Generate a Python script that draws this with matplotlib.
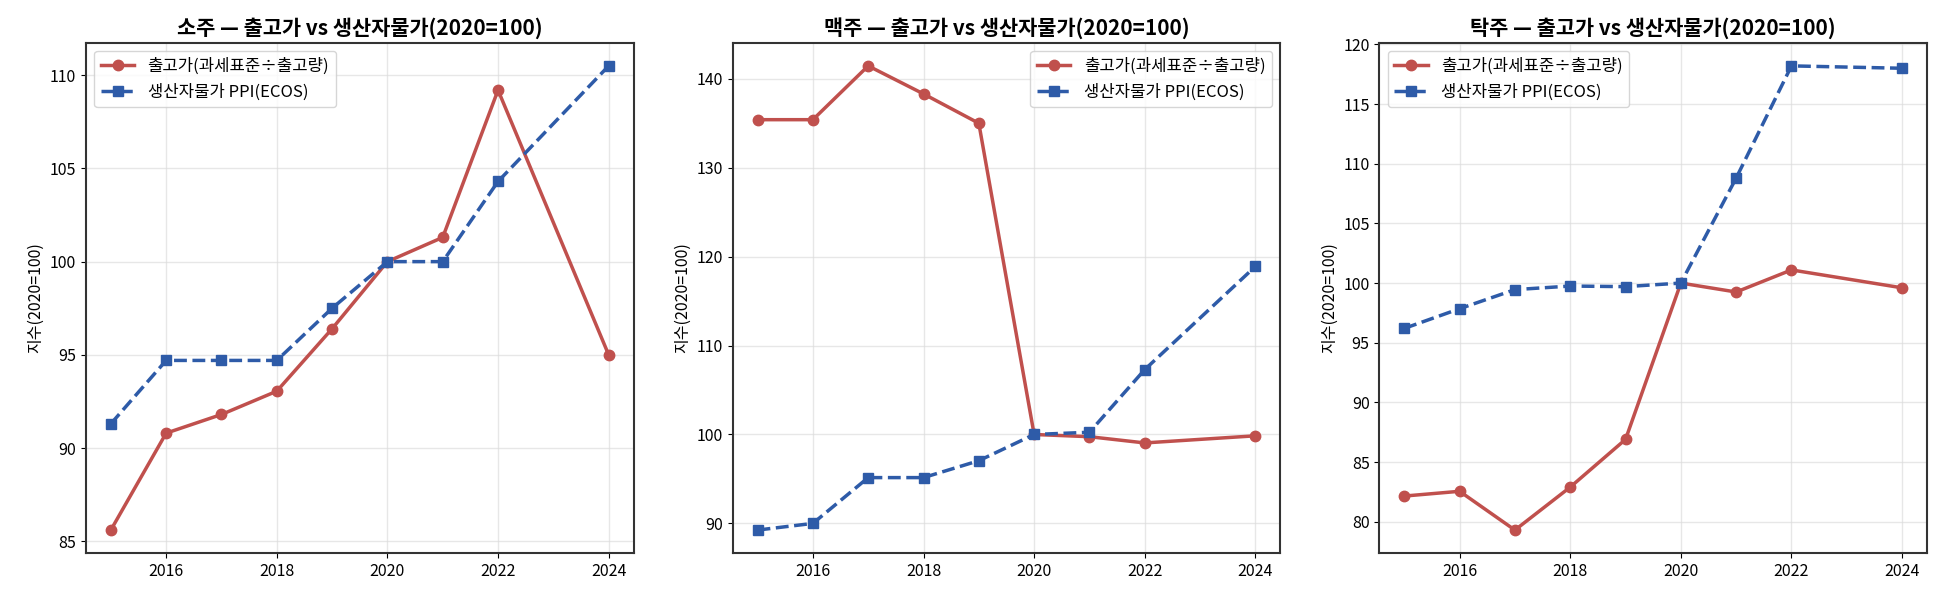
import matplotlib
matplotlib.use("Agg")
import matplotlib.pyplot as plt

plt.rcParams["font.family"] = ["Noto Sans CJK KR", "DejaVu Sans"]
plt.rcParams["axes.unicode_minus"] = False

# years with data (2023 missing)
years = [2015, 2016, 2017, 2018, 2019, 2020, 2021, 2022, 2024]

soju_price = [85.6, 90.8, 91.8, 93.05, 96.4, 100.0, 101.3, 109.2, 95.0]
soju_ppi = [91.3, 94.7, 94.7, 94.7, 97.5, 100.0, 100.0, 104.3, 110.5]

beer_price = [135.4, 135.4, 141.45, 138.3, 135.0, 100.0, 99.75, 99.05, 99.85]
beer_ppi = [89.25, 90.0, 95.15, 95.15, 97.05, 100.0, 100.25, 107.3, 118.9]

makgeolli_price = [82.15, 82.55, 79.3, 82.9, 86.9, 100.0, 99.25, 101.1, 99.6]
makgeolli_ppi = [96.2, 97.85, 99.45, 99.75, 99.7, 100.0, 108.8, 118.2, 118.0]

panels = [
    ("소주", soju_price, soju_ppi),
    ("맥주", beer_price, beer_ppi),
    ("탁주", makgeolli_price, makgeolli_ppi),
]

red = "#c0504d"
blue = "#2e5ba8"

fig, axes = plt.subplots(1, 3, figsize=(19.4, 6.01), dpi=100)
fig.subplots_adjust(left=0.0443, right=0.9933, top=0.929, bottom=0.0794, wspace=0.181)

for ax, (name, price, ppi) in zip(axes, panels):
    ax.plot(years, price, marker="o", linestyle="-", color=red, linewidth=2.5,
            markersize=7.5, label="출고가(과세표준÷출고량)")
    ax.plot(years, ppi, marker="s", linestyle="--", color=blue, linewidth=2.5,
            markersize=7.5, label="생산자물가 PPI(ECOS)")
    ax.set_title(f"{name} — 출고가 vs 생산자물가(2020=100)", fontsize=15, fontweight="bold")
    ax.set_ylabel("지수(2020=100)", fontsize=11.5)
    ax.set_xticks([2016, 2018, 2020, 2022, 2024])
    ax.tick_params(labelsize=11.5)
    ax.grid(True, color="#dddddd", alpha=0.7, linewidth=1)
    for s in ax.spines.values():
        s.set_color("#333333")
        s.set_linewidth(1.5)
    ax.legend(loc="best", fontsize=12)

fig.savefig("out.png", dpi=100)
